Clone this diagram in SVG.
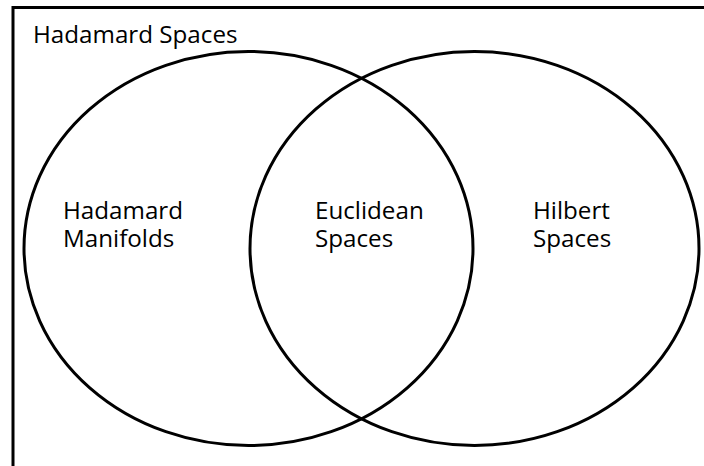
<svg xmlns="http://www.w3.org/2000/svg" width="704" height="466" viewBox="0 0 704 466">
<style>
.t{font-family:"Open Sans","Noto Sans",sans-serif;font-size:24.2px;fill:#000}
.s{fill:none;stroke:#000;stroke-width:3}
</style>
<rect width="704" height="466" fill="#fff"/>
<g id="hadamard-spaces">
<rect class="s" x="13" y="7.5" width="720" height="500"/>
<text class="t" x="33" y="43">Hadamard Spaces</text>
</g>
<g id="hadamard-manifolds">
<ellipse class="s" cx="248.5" cy="248.5" rx="224.5" ry="197"/>
<text class="t" x="63" y="219">Hadamard<tspan x="63" y="247">Manifolds</tspan></text>
</g>
<g id="hilbert-spaces">
<ellipse class="s" cx="474.5" cy="248.5" rx="224.5" ry="197"/>
<text class="t" x="533" y="219">Hilbert<tspan x="533" y="247">Spaces</tspan></text>
</g>
<g id="euclidean-spaces">
<text class="t" x="315" y="219">Euclidean<tspan x="315" y="247">Spaces</tspan></text>
</g>
<g id="connectors"></g>
</svg>
